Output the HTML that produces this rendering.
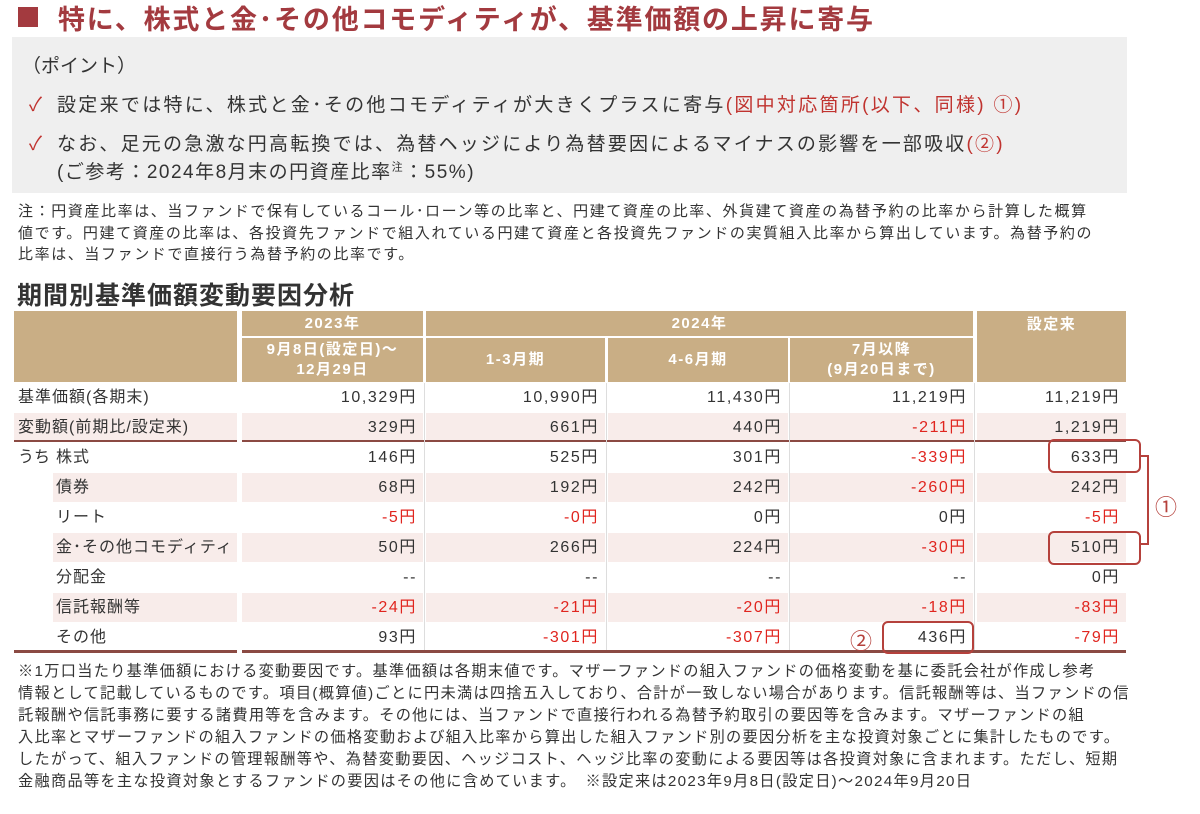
<!DOCTYPE html>
<html><head><meta charset="utf-8">
<style>
body{margin:0;width:1200px;height:814px;background:#fff;position:relative;overflow:hidden;font-family:"Liberation Sans","Noto Sans CJK JP",sans-serif;color:#333}
.a{position:absolute;white-space:nowrap}
.red{color:#c0332f}
.hd{background:#c9ae85;color:#fff;font-weight:bold;font-size:15px;letter-spacing:1.5px;text-align:center;display:flex;flex-direction:column;justify-content:center;line-height:20px}
.v{font-size:16px;letter-spacing:1.6px;text-align:right;line-height:30px;height:30px}
.box{position:absolute;border:2px solid #b5413c;border-radius:6px;box-sizing:border-box}
</style></head><body>
<div class="a" style="left:18px;top:7px;width:20px;height:20px;background:#a33a3f"></div>
<div class="a" style="left:58px;top:-2px;font-size:27px;font-weight:bold;color:#a33a3f;letter-spacing:1.8px">特に、株式と金･その他コモディティが、基準価額の上昇に寄与</div>
<div class="a" style="left:12px;top:37px;width:1115px;height:156px;background:#efefef"></div>
<div class="a" style="left:22px;top:51px;font-size:19px">（ポイント）</div>
<div class="a" style="left:29px;top:90px;font-size:19px;color:#c0332f">✓</div>
<div class="a" style="left:57px;top:90px;font-size:19px;letter-spacing:2.3px">設定来では特に、株式と金･その他コモディティが大きくプラスに寄与<span class="red">(図中対応箇所(以下、同様) ①)</span></div>
<div class="a" style="left:29px;top:129px;font-size:19px;color:#c0332f">✓</div>
<div class="a" style="left:57px;top:129px;font-size:19px;letter-spacing:2.2px">なお、足元の急激な円高転換では、為替ヘッジにより為替要因によるマイナスの影響を一部吸収<span class="red">(②)</span></div>
<div class="a" style="left:57px;top:157px;font-size:19px;letter-spacing:1.5px">(ご参考：2024年8月末の円資産比率<sup style="font-size:11px">注</sup>：55%)</div>
<div class="a" style="left:18px;top:201px;font-size:15px;line-height:21.5px;letter-spacing:1.6px">注：円資産比率は、当ファンドで保有しているコール･ローン等の比率と、円建て資産の比率、外貨建て資産の為替予約の比率から計算した概算<br>値です。円建て資産の比率は、各投資先ファンドで組入れている円建て資産と各投資先ファンドの実質組入比率から算出しています。為替予約の<br>比率は、当ファンドで直接行う為替予約の比率です。</div>
<div class="a" style="left:17px;top:276px;font-size:25px;font-weight:bold;letter-spacing:1px">期間別基準価額変動要因分析</div>
<div id="tbl"></div>
<div class="a" style="left:18px;top:661px;font-size:15.2px;line-height:22px;letter-spacing:1.3px">※1万口当たり基準価額における変動要因です。基準価額は各期末値です。マザーファンドの組入ファンドの価格変動を基に委託会社が作成し参考<br>情報として記載しているものです。項目(概算値)ごとに円未満は四捨五入しており、合計が一致しない場合があります。信託報酬等は、当ファンドの信<br>託報酬や信託事務に要する諸費用等を含みます。その他には、当ファンドで直接行われる為替予約取引の要因等を含みます。マザーファンドの組<br>入比率とマザーファンドの組入ファンドの価格変動および組入比率から算出した組入ファンド別の要因分析を主な投資対象ごとに集計したものです。<br>したがって、組入ファンドの管理報酬等や、為替変動要因、ヘッジコスト、ヘッジ比率の変動による要因等は各投資対象に含まれます。ただし、短期<br>金融商品等を主な投資対象とするファンドの要因はその他に含めています。　※設定来は2023年9月8日(設定日)～2024年9月20日</div>
<script>
const rowLabels=["基準価額(各期末)","変動額(前期比/設定来)","株式","債券","リート","金･その他コモディティ","分配金","信託報酬等","その他"];
const col2023=[10329,329,146,68,-5,50,null,-24,93];
const colQ1=[10990,661,525,192,-0,266,null,-21,-301];
const colQ2=[11430,440,301,242,0,224,null,-20,-307];
const colQ3=[11219,-211,-339,-260,0,-30,null,-18,436];
const colSince=[11219,1219,633,242,-5,510,0,-83,-79];
const negZeroRow=4;
const cols=[col2023,colQ1,colQ2,colQ3,colSince];
const colX=[[242,423],[426,605],[608,788],[790,973],[977,1126]];
const T=document.getElementById('tbl');
function mk(name,style,html,cls){const d=document.createElement('div');d.className='a '+(cls||'');d.style.cssText=style;if(html!==undefined)d.innerHTML=html;


T.appendChild(d);return d;}
mk('header-blank','left:14px;top:311px;width:223px;height:71px;background:#c9ae85');
mk('header-2023','left:242px;top:311px;width:181px;height:25px','2023年','hd');
mk('header-2024','left:426px;top:311px;width:547px;height:25px','2024年','hd');
mk('header-since','left:977px;top:311px;width:149px;height:71px;justify-content:flex-start;padding-top:4px;box-sizing:border-box','設定来','hd');
const subs=['9月8日(設定日)～<br>12月29日','1-3月期','4-6月期','7月以降<br>(9月20日まで)'];
for(let i=0;i<4;i++){mk('subheader-'+i,`left:${colX[i][0]}px;top:338px;width:${colX[i][1]-colX[i][0]}px;height:44px`,subs[i],'hd');}
const fmt=v=>{if(v===null)return '--';let s=Math.abs(v).toLocaleString('en-US');return (v<0||Object.is(v,-0)?'-':'')+s+'円';};
const y0=383,rh=30;
rowLabels.forEach((lab,r)=>{
  const y=y0+r*rh;
  const pink=(r===1||r===3||r===5||r===7);
  const sub=r>=2;
  const lx=sub?53:14;
  if(pink) mk('row-bg-'+r,`left:${lx}px;top:${y}px;width:${237-lx}px;height:${rh-1}px;background:#f8ecea`);
  mk('row-label-'+r,`left:${sub?56:18}px;top:${y}px;height:30px;line-height:30px;font-size:16px;letter-spacing:1px`,lab);
  cols.forEach((c,i)=>{
    const [x1,x2]=colX[i];
    if(pink) mk('cell-bg-'+r+'-'+i,`left:${x1}px;top:${y}px;width:${x2-x1}px;height:${rh-1}px;background:#f8ecea`);
    let v=c[r];
    if(r===negZeroRow&&i===1&&v===0) v=-0;
    const neg=v!==null&&(v<0||Object.is(v,-0));
    mk('value-'+r+'-'+i,`left:${x1}px;top:${y}px;width:${x2-x1-6}px;color:${neg?'#e0251f':'#333'}`,fmt(v),'v');
  });
});
mk('uchi-label','left:18px;top:443px;height:30px;line-height:30px;font-size:16px','うち');
mk('separator-line-label','left:14px;top:440px;width:223px;height:2px;background:#8b4a43');
mk('separator-line','left:242px;top:440px;width:884px;height:2px;background:#8b4a43');
mk('bottom-line-label','left:14px;top:650px;width:223px;height:3px;background:#8b4a43');
mk('bottom-line','left:242px;top:650px;width:884px;height:3px;background:#8b4a43');
for(const x of [424,606,789,974]) mk('col-divider','left:'+x+'px;top:383px;width:1px;height:267px;background:#ddd');
</script>
<div class="box" style="left:1048px;top:439px;width:93px;height:34px"></div>
<div class="box" style="left:1048px;top:531px;width:93px;height:34px"></div>
<div class="box" style="left:882px;top:621px;width:92px;height:33px"></div>
<div class="a" style="left:1141px;top:455px;width:6px;height:86px;border:2px solid #b5413c;border-left:none"></div>
<div class="a" style="left:1155px;top:490px;font-size:22px;color:#b5413c">①</div>
<div class="a" style="left:850px;top:624px;font-size:22px;color:#b5413c">②</div>
</body></html>
